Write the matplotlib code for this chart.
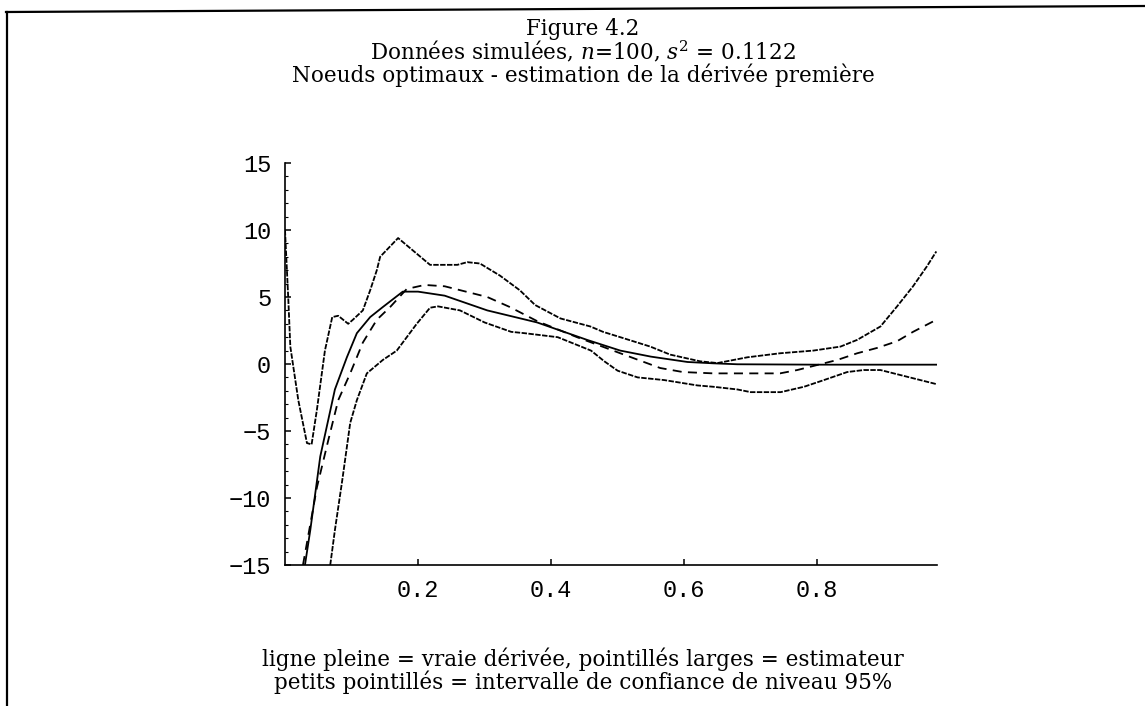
import matplotlib
matplotlib.use("Agg")
import matplotlib.pyplot as plt
from matplotlib.lines import Line2D
import numpy as np

# ---- data ----
x_true = [0.030, 0.038, 0.053, 0.075, 0.093, 0.108, 0.128, 0.147, 0.177, 0.200, 0.240,
          0.304, 0.379, 0.454, 0.504, 0.550, 0.605, 0.644, 0.680, 0.800, 0.980]
y_true = [-15.0, -12.4, -6.9, -1.9, 0.5, 2.3, 3.5, 4.25, 5.4, 5.4, 5.1,
          4.0, 3.1, 1.8, 1.0, 0.55, 0.15, 0.05, -0.02, -0.05, -0.05]

x_est = [0.027, 0.048, 0.065, 0.080, 0.098, 0.117, 0.138, 0.158, 0.183, 0.210, 0.240,
         0.304, 0.338, 0.379, 0.439, 0.504, 0.564, 0.598, 0.644, 0.695, 0.744, 0.770,
         0.830, 0.860, 0.890, 0.920, 0.944, 0.979]
y_est = [-15.0, -9.2, -5.7, -2.7, -0.7, 1.6, 3.3, 4.25, 5.6, 5.9, 5.8,
         5.0, 4.25, 3.2, 2.0, 0.8, -0.3, -0.6, -0.7, -0.7, -0.7, -0.45,
         0.3, 0.8, 1.2, 1.7, 2.4, 3.3]

x_up = [0.000, 0.005, 0.008, 0.020, 0.033, 0.040, 0.048, 0.060, 0.071, 0.080, 0.095,
        0.102, 0.117, 0.128, 0.138, 0.143, 0.170, 0.218, 0.259, 0.274, 0.293, 0.323,
        0.353, 0.376, 0.414, 0.459, 0.478, 0.504, 0.549, 0.579, 0.624, 0.650, 0.695,
        0.744, 0.794, 0.835, 0.860, 0.895, 0.920, 0.944, 0.965, 0.979]
y_up = [10.0, 4.8, 1.3, -2.7, -5.9, -6.0, -3.4, 1.0, 3.5, 3.6, 3.0,
        3.3, 4.0, 5.5, 7.0, 8.0, 9.4, 7.4, 7.4, 7.6, 7.5, 6.6,
        5.5, 4.4, 3.4, 2.8, 2.4, 2.0, 1.3, 0.7, 0.2, 0.07, 0.5,
        0.8, 1.0, 1.3, 1.8, 2.8, 4.3, 5.8, 7.3, 8.4]

x_low = [0.068, 0.075, 0.086, 0.098, 0.108, 0.123, 0.147, 0.168, 0.198, 0.218, 0.230,
         0.263, 0.300, 0.340, 0.360, 0.410, 0.430, 0.460, 0.480, 0.500, 0.530, 0.570,
         0.620, 0.644, 0.680, 0.700, 0.745, 0.780, 0.810, 0.845, 0.870, 0.895, 0.935, 0.979]
y_low = [-15.0, -12.4, -8.7, -4.4, -2.7, -0.7, 0.3, 1.0, 3.0, 4.2, 4.3,
         4.0, 3.1, 2.4, 2.3, 2.0, 1.6, 1.0, 0.2, -0.5, -1.0, -1.2,
         -1.6, -1.7, -1.9, -2.1, -2.1, -1.7, -1.2, -0.6, -0.45, -0.45, -0.95, -1.5]

x_ticks = [0.2, 0.4, 0.6, 0.8]
x_ticklabels = ["0.2", "0.4", "0.6", "0.8"]
y_ticks = [-15, -10, -5, 0, 5, 10, 15]
y_ticklabels = ["\u221215", "\u221210", "\u22125", "0", "5", "10", "15"]

title_lines = ["Figure 4.2",
               "Données simulées, $n$=100, $s^2$ = 0.1122",
               "Noeuds optimaux - estimation de la dérivée première"]
caption_lines = ["ligne pleine = vraie dérivée, pointillés larges = estimateur",
                 "petits pointillés = intervalle de confiance de niveau 95%"]

plt.rcParams['mathtext.fontset'] = 'dejavuserif'

fig = plt.figure(figsize=(11.45, 7.06), dpi=100)
W, H = 1145, 706
ax = fig.add_axes([285 / W, 1 - 565 / H, (937 - 285) / W, (565 - 163) / H])

lw = 1.3
ax.plot(x_true, y_true, color="black", lw=lw, solid_joinstyle="round")
ax.plot(x_est, y_est, color="black", lw=lw, dashes=(5, 3.5))
ax.plot(x_up, y_up, color="black", lw=lw, dashes=(3, 0.8))
ax.plot(x_low, y_low, color="black", lw=lw, dashes=(3, 0.8))

ax.set_xlim(0, 0.98)
ax.set_ylim(-15, 15)
for s in ["top", "right"]:
    ax.spines[s].set_visible(False)
for s in ["left", "bottom"]:
    ax.spines[s].set_linewidth(1.2)

ax.set_xticks(x_ticks)
ax.set_xticklabels(x_ticklabels)
ax.set_yticks(y_ticks)
ax.set_yticklabels(y_ticklabels)
ax.set_yticks(np.arange(-15, 16, 1), minor=True)
ax.tick_params(axis="both", which="major", direction="in", length=4, width=1.1,
               labelsize=17, pad=10)
ax.tick_params(axis="both", which="minor", direction="in", length=2, width=0.8)
for lab in ax.get_xticklabels() + ax.get_yticklabels():
    lab.set_fontfamily("Liberation Mono")

fs = 15.5
# va="baseline" on a multi-line text anchors the baseline of its last line
fig.text(583 / W, 1 - 82 / H, "\n".join(title_lines), ha="center", va="baseline",
         multialignment="center", fontsize=fs, family="DejaVu Serif", linespacing=0.95)
fig.text(583 / W, 1 - 689 / H, "\n".join(caption_lines), ha="center", va="baseline",
         multialignment="center", fontsize=fs, family="DejaVu Serif", linespacing=0.95)

# page frame (top and left edges of the scanned page)
fig.add_artist(Line2D([6 / W, 1.0], [1 - 12 / H, 1 - 6 / H], color="black", lw=1.6,
                      transform=fig.transFigure))
fig.add_artist(Line2D([6.5 / W, 6.5 / W], [1 - 12 / H, 0.0], color="black", lw=1.6,
                      transform=fig.transFigure))

fig.savefig("out.png", dpi=100)
